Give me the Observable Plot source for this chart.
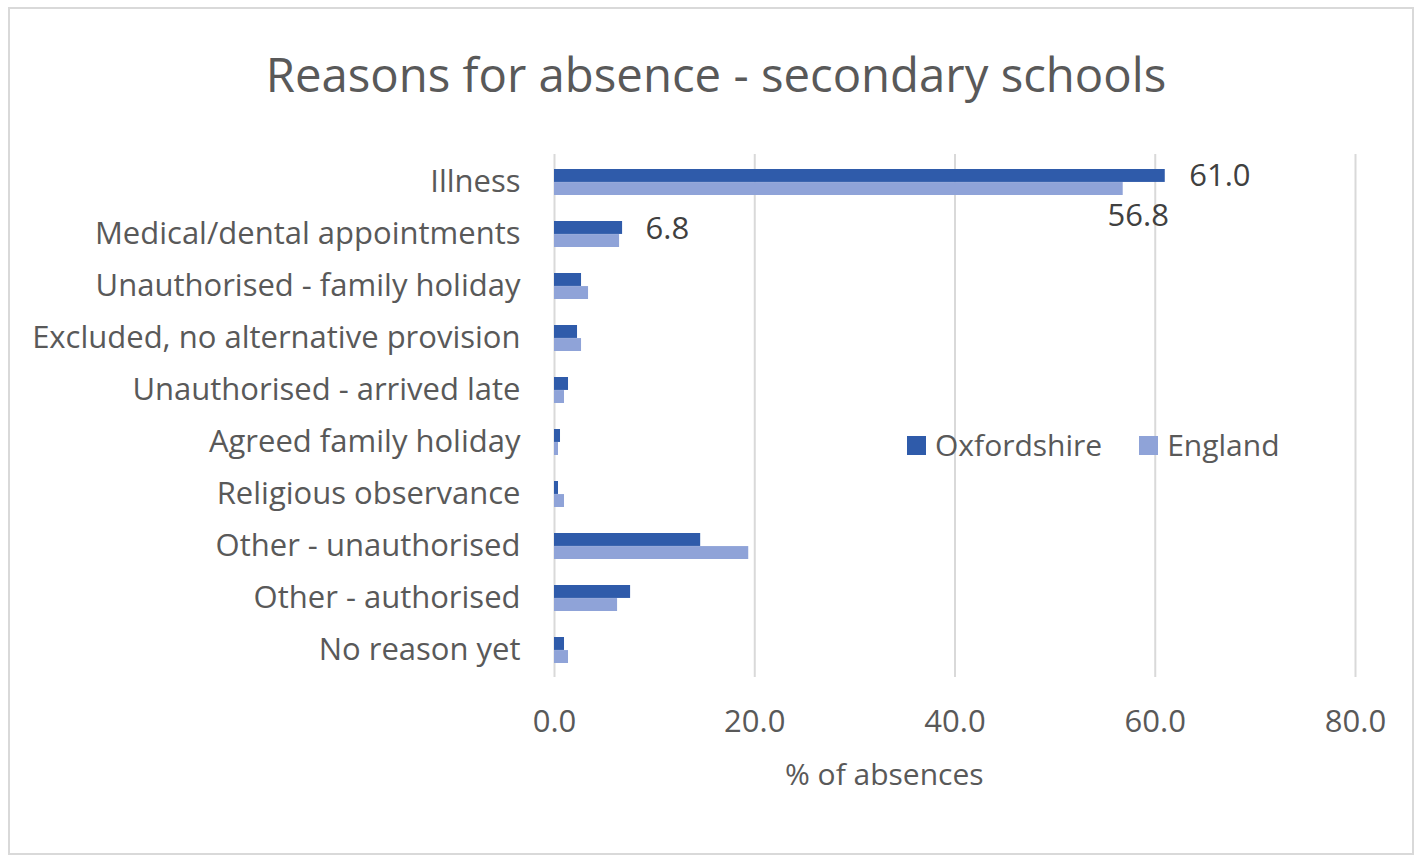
<!DOCTYPE html>
<html>
<head>
<meta charset="utf-8">
<script src="https://cdn.jsdelivr.net/npm/d3@7"></script>
<script src="https://cdn.jsdelivr.net/npm/@observablehq/plot@0.6"></script>
<style>
  html, body { margin: 0; padding: 0; background: #fff; }
  #wrap { position: relative; width: 1415px; height: 855px; font-family: "Open Sans", sans-serif; color: #595959; overflow: hidden; }
  #frame { position: absolute; left: 8px; top: 7px; width: 1402px; height: 844px; border: 2px solid #d9d9d9; box-sizing: content-box; }
  #title { position: absolute; left: 0; width: 1432px; top: 44px; text-align: center; font-size: 47.3px; line-height: 60px; color: #595959; }
  #chart { position: absolute; left: 0; top: 0; }
  #legend { position: absolute; left: 907px; top: 425px; display: flex; align-items: center; font-size: 30px; line-height: 40px; }
  #legend .sw { width: 19px; height: 19px; display: inline-block; margin-right: 9px; }
  #legend .item { display: flex; align-items: center; margin-right: 37px; }
  #xlabel { position: absolute; left: 785px; top: 754px; font-size: 30px; line-height: 40px; }
</style>
</head>
<body>
<div id="wrap">
  <div id="frame"></div>
  <div id="chart"></div>
  <div id="title">Reasons for absence - secondary schools</div>
  <div id="legend"></div>
  <div id="xlabel">% of absences</div>
</div>
<script>
const categories = [
  "Illness",
  "Medical/dental appointments",
  "Unauthorised - family holiday",
  "Excluded, no alternative provision",
  "Unauthorised - arrived late",
  "Agreed family holiday",
  "Religious observance",
  "Other - unauthorised",
  "Other - authorised",
  "No reason yet"
];
const seriesNames = ["Oxfordshire", "England"];
const oxfordshire = [61.0, 6.8, 2.7, 2.3, 1.4, 0.6, 0.4, 14.6, 7.6, 1.0];
const england     = [56.8, 6.5, 3.4, 2.7, 1.0, 0.4, 1.0, 19.4, 6.3, 1.4];
const xTicks = [0, 20, 40, 60, 80];
const colors = ["#2F5BAA", "#8FA3D8"];

const oxRows = categories.map((c, i) => ({category: c, value: oxfordshire[i]}));
const enRows = categories.map((c, i) => ({category: c, value: england[i]}));

const half = 13.07;

const chart = Plot.plot({
  width: 1415,
  height: 855,
  marginTop: 154,
  marginBottom: 178,
  marginLeft: 554,
  marginRight: 60,
  style: {fontFamily: "Open Sans, sans-serif", fontSize: "31px", color: "#595959", background: "transparent"},
  x: {domain: [0, 80], ticks: xTicks},
  y: {domain: categories, paddingInner: 0.5, paddingOuter: 0.25},
  marks: [
    Plot.gridX(xTicks, {stroke: "#d9d9d9", strokeOpacity: 1, strokeWidth: 2}),
    Plot.barX(oxRows, {x: "value", y: "category", fill: colors[0], insetBottom: half}),
    Plot.barX(enRows, {x: "value", y: "category", fill: colors[1], insetTop: half}),
    Plot.axisX({ticks: xTicks, tickFormat: d3.format(".1f"), tickSize: 0, tickPadding: 32, label: null, fontSize: 31, fill: "#595959"}),
    Plot.axisY({tickSize: 0, tickPadding: 34, label: null, fontSize: 31, fill: "#595959"}),
    Plot.text(oxRows.filter(d => d.category === "Illness"), {x: "value", y: "category", text: d => d.value.toFixed(1), textAnchor: "start", dx: 24, dy: -6, fontSize: 31, fill: "#404040"}),
    Plot.text(oxRows.filter(d => d.category === "Medical/dental appointments"), {x: "value", y: "category", text: d => d.value.toFixed(1), textAnchor: "start", dx: 23, dy: -5, fontSize: 31, fill: "#404040"}),
    Plot.text(enRows.filter(d => d.category === "Illness"), {x: "value", y: "category", text: d => d.value.toFixed(1), textAnchor: "middle", dx: 15, dy: 34, fontSize: 31, fill: "#404040"})
  ]
});
document.getElementById("chart").appendChild(chart);

const legend = document.getElementById("legend");
seriesNames.forEach((name, i) => {
  const item = document.createElement("span");
  item.className = "item";
  const sw = document.createElement("span");
  sw.className = "sw";
  sw.style.background = colors[i];
  item.appendChild(sw);
  item.appendChild(document.createTextNode(name));
  legend.appendChild(item);
});
</script>
</body>
</html>
